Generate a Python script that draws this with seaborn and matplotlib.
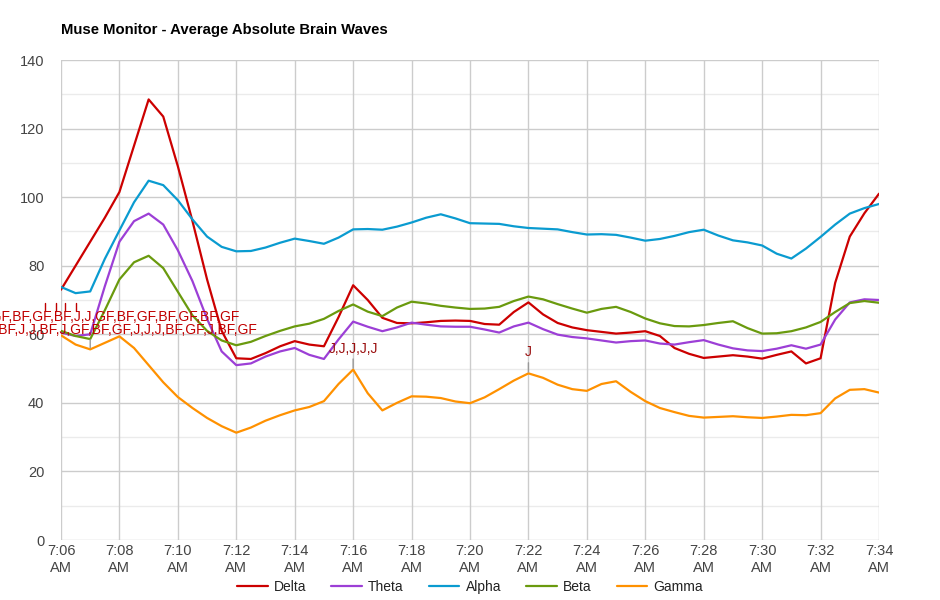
import pandas as pd
import matplotlib
matplotlib.use('Agg')
import matplotlib.pyplot as plt
import seaborn as sns
from matplotlib.lines import Line2D

# minutes after 7:06
minutes = [0, 0.5, 1, 1.5, 2, 2.5, 3, 3.5, 4, 4.5, 5, 5.5, 6, 6.5, 7, 7.5, 8, 8.5, 9, 9.5,
           10, 10.5, 11, 11.5, 12, 12.5, 13, 13.5, 14, 14.5, 15, 15.5, 16, 16.5, 17, 17.5, 18, 18.5, 19, 19.5,
           20, 20.5, 21, 21.5, 22, 22.5, 23, 23.5, 24, 24.5, 25, 25.5, 26, 26.5, 27, 27.5, 28]

delta = [73, 80, 87, 94, 101.5, 115, 128.5, 123.5, 109, 93, 76, 61, 53, 52.8, 54.5, 56.5, 58, 57, 56.5, 65,
         74.3, 70, 64.8, 63.3, 63.2, 63.5, 63.9, 64, 63.9, 63, 62.8, 66.5, 69.3, 65.8, 63.3, 62, 61.2, 60.7, 60.2, 60.5,
         60.9, 59.5, 56, 54.3, 53.1, 53.5, 53.9, 53.5, 52.9, 54, 55, 51.5, 53, 75, 88.5, 95.3, 101]
theta = [60.5, 59.5, 60, 74, 87, 93, 95.2, 92, 84.5, 75.5, 64.5, 55, 51, 51.5, 53.5, 55, 56, 54, 52.8, 58.5,
         63.7, 62.2, 60.9, 62, 63.4, 62.8, 62.3, 62.2, 62.2, 61.4, 60.5, 62.3, 63.4, 61.5, 59.9, 59.2, 58.8, 58.2, 57.6, 58,
         58.2, 57.3, 57, 57.7, 58.3, 57, 55.9, 55.3, 55.1, 55.8, 56.8, 55.8, 57, 64.3, 69.3, 70.2, 70]
alpha = [73.8, 72, 72.5, 82, 90.3, 98.5, 104.8, 103.5, 99.1, 93.5, 88.5, 85.5, 84.2, 84.3, 85.3, 86.7, 87.9, 87.2, 86.4, 88.2,
         90.6, 90.7, 90.5, 91.4, 92.6, 94, 95, 93.8, 92.4, 92.3, 92.2, 91.5, 91, 90.8, 90.6, 89.8, 89.1, 89.2, 89, 88.2,
         87.3, 87.8, 88.7, 89.8, 90.5, 88.8, 87.4, 86.8, 85.9, 83.5, 82.1, 85, 88.4, 92, 95.2, 96.8, 98]
beta = [61, 59.5, 58.6, 67, 76, 81, 82.9, 79.3, 72.4, 65.5, 61, 58.2, 56.8, 57.8, 59.5, 61, 62.3, 63.1, 64.5, 66.8,
        68.7, 66.6, 65.3, 67.8, 69.5, 69, 68.3, 67.8, 67.4, 67.5, 68, 69.7, 71, 70.2, 68.8, 67.5, 66.3, 67.4, 68, 66.5,
        64.6, 63.2, 62.4, 62.3, 62.7, 63.3, 63.8, 61.8, 60.2, 60.3, 60.9, 62, 63.6, 66.5, 69.1, 69.7, 69.2]
gamma = [59.7, 57, 55.6, 57.5, 59.4, 56, 51, 46, 41.7, 38.5, 35.6, 33.2, 31.3, 32.8, 34.8, 36.4, 37.8, 38.8, 40.5, 45.5,
         49.7, 42.8, 37.8, 40, 41.9, 41.8, 41.4, 40.4, 39.9, 41.6, 44, 46.5, 48.6, 47.3, 45.3, 44, 43.5, 45.5, 46.3, 43.2,
         40.5, 38.5, 37.3, 36.2, 35.7, 35.9, 36.1, 35.8, 35.6, 36, 36.5, 36.4, 37, 41.3, 43.8, 44, 43]

series_names = ['Delta', 'Theta', 'Alpha', 'Beta', 'Gamma']
colors = ['#cc0000', '#9c3fd6', '#0a9bd0', '#6a9a0e', '#ff9100']

tick_minutes = [0, 2, 4, 6, 8, 10, 12, 14, 16, 18, 20, 22, 24, 26, 28]
tick_labels = ['7:06\nAM', '7:08\nAM', '7:10\nAM', '7:12\nAM', '7:14\nAM', '7:16\nAM', '7:18\nAM', '7:20\nAM',
               '7:22\nAM', '7:24\nAM', '7:26\nAM', '7:28\nAM', '7:30\nAM', '7:32\nAM', '7:34\nAM']

# gamma annotations
note_minutes = [10, 16]
note_texts = ['J,J,J,J,J', 'J']
row1_text = 'BF,GF,BF,GF,BF,GF,BF,J,J,GF,BF,GF,BF,GF,BF,GF'
row2_text = 'J,J,BF,J,J,BF,J,GF,BF,GF,J,J,J,BF,GF,J,BF,GF'

frames = []
for name, vals in zip(series_names, [delta, theta, alpha, beta, gamma]):
    frames.append(pd.DataFrame({'minute': minutes, 'value': vals, 'wave': name}))
df = pd.concat(frames, ignore_index=True)

sns.set_theme(style='white')
plt.rcParams['font.family'] = ['Liberation Sans', 'DejaVu Sans']

fig = plt.figure(figsize=(9.4, 6), dpi=100)
ax = fig.add_axes([61 / 940, 60 / 600, 818 / 940, 480 / 600])

# grid first
for v in range(10, 140, 20):
    ax.axhline(v, color='#ebebeb', lw=1, zorder=0)
for v in range(0, 141, 20):
    ax.axhline(v, color='#cccccc', lw=1, zorder=0)
for m in tick_minutes:
    ax.axvline(m, color='#cccccc', lw=1, zorder=0)

sns.lineplot(data=df, x='minute', y='value', hue='wave', palette=colors,
             hue_order=series_names, linewidth=1.6, ax=ax, legend=False, zorder=3,
             solid_joinstyle='round', solid_capstyle='round')

ax.set_xlim(0, 28)
ax.set_ylim(0, 140)
ax.set_xticks(tick_minutes)
ax.set_xticklabels(tick_labels, fontsize=10.5, color='#444444', linespacing=1.25)
ax.set_yticks(range(0, 141, 20))
ax.set_yticklabels([str(v) for v in range(0, 141, 20)], fontsize=10.5, color='#444444')
ax.tick_params(axis='y', length=0, pad=12)
ax.tick_params(axis='x', length=0, pad=3)
ax.set_xlabel('')
ax.set_ylabel('')
for s in ax.spines.values():
    s.set_visible(False)

# annotations on gamma
for m, txt in zip(note_minutes, note_texts):
    v = gamma[minutes.index(m)]
    ax.annotate(txt, xy=(m, v), xytext=(0, 10), textcoords='offset points',
                ha='center', va='bottom', fontsize=10, color='#9a0f0f',
                arrowprops=dict(arrowstyle='-', color='#999999', lw=1, shrinkA=0, shrinkB=1),
                zorder=5)

ax.annotate('', xy=(1, gamma[minutes.index(1)]), xytext=(0, 7), textcoords='offset points',
            arrowprops=dict(arrowstyle='-', color='#999999', lw=1, shrinkA=0, shrinkB=1))

# overlapping annotation rows at the start
fig.text(240 / 940, 1 - 317 / 600, row1_text, ha='right', va='center', fontsize=10, color='#c00000', zorder=6)
fig.text(258 / 940, 1 - 330 / 600, row2_text, ha='right', va='center', fontsize=10, color='#c00000', zorder=6)
for px in [45, 56, 65, 76]:
    fig.add_artist(Line2D([px / 940, px / 940], [1 - 303 / 600, 1 - 311 / 600], color='#c00000', lw=1))

fig.text(61 / 940, 1 - 30 / 600, 'Muse Monitor - Average Absolute Brain Waves',
         fontsize=10.7, fontweight='bold', color='#000000', va='center')

handles = [Line2D([0], [0], color=c, lw=1.6) for c in colors]
fig.legend(handles, series_names, loc='center', bbox_to_anchor=(0.5, 1 - 587 / 600), ncol=5,
           frameon=False, fontsize=10, handlelength=2.2, handletextpad=0.45, columnspacing=1.8,
           labelcolor='#222222')

fig.savefig('out.png', dpi=100)
